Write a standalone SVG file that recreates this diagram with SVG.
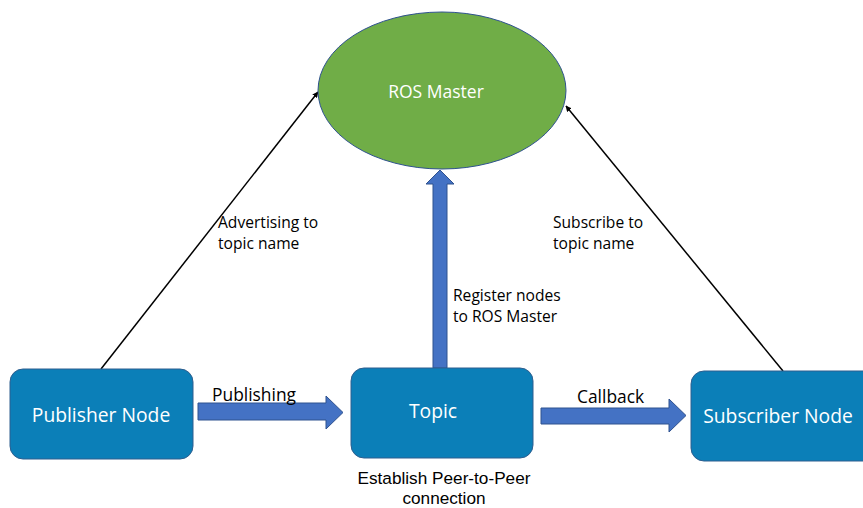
<svg xmlns="http://www.w3.org/2000/svg" width="863" height="508" viewBox="0 0 863 508">
<style>
.box{fill:#0B7FB8;stroke:#2E5E8F;stroke-width:1}
.wt{fill:#fff;font-family:"Open Sans","Liberation Sans",sans-serif;text-anchor:middle}
.lb{fill:#000;font-family:"Open Sans","Liberation Sans",sans-serif}
.s1{font-size:15.6px}
.s2{font-size:17.4px}
.s3{font-size:17.2px;font-family:"Liberation Sans",Arial,sans-serif}
.fat{fill:#4472C4;stroke:#2F528F;stroke-width:1}
.ln{stroke:#000;stroke-width:1.5;fill:none;marker-end:url(#ah)}
</style>
<defs>
<marker id="ah" viewBox="0 0 10 10" refX="9" refY="5" markerWidth="6" markerHeight="6" orient="auto" markerUnits="userSpaceOnUse">
<path d="M0,0 L10,5 L0,10 z" fill="#000"/>
</marker>
</defs>
<rect width="863" height="508" fill="#fff"/>
<g id="connectors">
<line class="ln" x1="101" y1="369" x2="318" y2="92"/>
<line class="ln" x1="783" y1="371" x2="566" y2="106"/>
<path class="fat" d="M433,368 L433,184 L426,184 L440,170 L454,184 L447,184 L447,368 Z"/>
<path class="fat" d="M198,403 L326,403 L326,396 L343,412.5 L326,429 L326,420 L198,420 Z"/>
<path class="fat" d="M541,408 L669,408 L669,399 L686,415.5 L669,432 L669,424 L541,424 Z"/>
<text class="lb s1" x="218" y="228">Advertising to</text>
<text class="lb s1" x="218" y="249">topic name</text>
<text class="lb s1" x="553" y="228">Subscribe to</text>
<text class="lb s1" x="553" y="249">topic name</text>
<text class="lb s1" x="453" y="301">Register nodes</text>
<text class="lb s1" x="453" y="322">to ROS Master</text>
<text class="lb s2" x="212" y="401">Publishing</text>
<text class="lb s2" x="577" y="403">Callback</text>
</g>
<g id="ros-master">
<ellipse cx="442" cy="90.5" rx="124" ry="78.5" fill="#70AD47" stroke="#2F528F" stroke-width="1"/>
<text class="wt" x="436" y="98" style="font-size:17.5px">ROS Master</text>
</g>
<g id="publisher">
<rect class="box" x="10" y="369" width="183" height="90" rx="13"/>
<text class="wt" x="101" y="422" style="font-size:19.3px">Publisher Node</text>
</g>
<g id="topic">
<rect class="box" x="351" y="368" width="182" height="90" rx="13"/>
<text class="wt" x="433" y="418" style="font-size:19.3px">Topic</text>
<text class="lb s3" x="444" y="484" text-anchor="middle">Establish Peer-to-Peer</text>
<text class="lb s3" x="444" y="504" text-anchor="middle">connection</text>
</g>
<g id="subscriber">
<rect class="box" x="691" y="371" width="185" height="90" rx="13"/>
<text class="wt" x="778" y="423" style="font-size:19.3px">Subscriber Node</text>
</g>
</svg>
